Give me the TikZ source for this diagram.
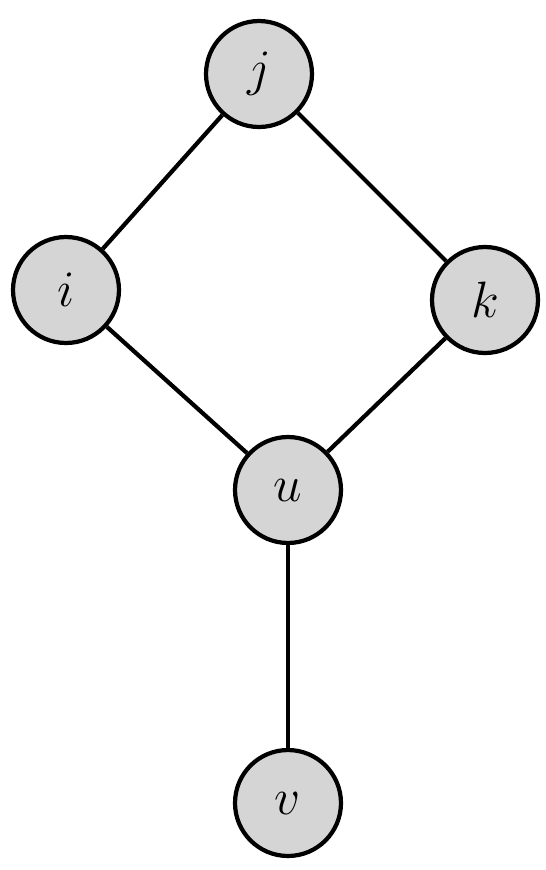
\documentclass[tikz,border=0pt]{standalone}
\usepackage{tikz}
\usetikzlibrary{positioning}
\definecolor{vfill}{RGB}{213,213,213}
\newcommand{\vlabel}[1]{\scalebox{1.17}{$#1$}}

\begin{document}
\begin{tikzpicture}[
    x=0.02cm, y=-0.02cm,
    vertex/.style={circle, draw, line width=2.4pt, fill=vfill, minimum size=2.12cm, inner sep=0pt, font=\Huge},
    edge/.style={line width=2.4pt},
]
\useasboundingbox (0,0) rectangle (546,870);

% Vertices
\node[vertex] (j) at (259,74) {\vlabel{j}};
\node[vertex] (i) at (66,290) {\vlabel{i}};
\node[vertex] (k) at (485,300) {\vlabel{k}};
\node[vertex] (u) at (288,490) {\vlabel{u}};
\node[vertex] (v) at (288,803) {\vlabel{v}};

% Edges
\draw[edge] (j) -- (i);
\draw[edge] (j) -- (k);
\draw[edge] (i) -- (u);
\draw[edge] (k) -- (u);
\draw[edge] (u) -- (v);

\end{tikzpicture}
\end{document}
